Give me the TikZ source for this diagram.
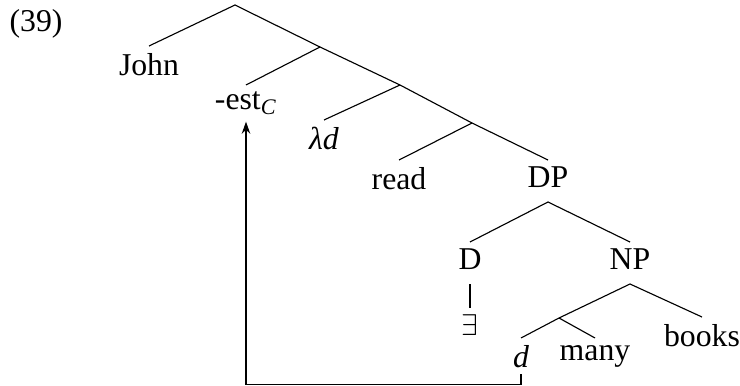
\documentclass[tikz,border=0pt]{standalone}
\usepackage{fontspec}
\setmainfont{Liberation Serif}
\usetikzlibrary{arrows.meta}

\begin{document}
\begin{tikzpicture}[
  x=0.4pt, y=-0.4pt, line width=0.45pt,
  >={Stealth[length=1.7mm,width=1.2mm]},
  font=\fontsize{12.7}{15}\selectfont,
  leaf/.style={anchor=north,inner sep=2.6pt},
]
\useasboundingbox (0,0) rectangle (740,386);
\node[anchor=base west,inner sep=0pt] (exnum) at (9,32) {(39)};

% --- spine of the tree ---
\coordinate (top) at (235,5);
\coordinate (n2)  at (320,47);
\coordinate (n3)  at (400,85);
\coordinate (n4)  at (472,123);
\node[leaf] (john) at (149,46)  {John};
\node[leaf] (est)  at (246,85)  {-est\textsubscript{\textit{C}}};
\node[leaf] (lam)  at (324,120) {\textit{λd}};
\node[leaf] (read) at (399,160) {read};
\node[leaf] (dp)   at (548,160) {DP};
\draw (top) -- (john.north);
\draw (top) -- (n2) -- (n3) -- (n4) -- (dp.north);
\draw (n2) -- (est.north);
\draw (n3) -- (lam.north);
\draw (n4) -- (read.north);

% --- DP ---
\coordinate (dpa) at (548,202);
\node[leaf] (det) at (470,242) {D};
\node[leaf] (np)  at (630,242) {NP};
\node[leaf] (ex)  at (470,308) {$\exists$};
\draw (det.north) -- (dpa) -- (np.north);
\draw[shorten <=3pt] (det.south) -- (ex.north);

% --- NP ---
\coordinate (npa) at (630,284);
\coordinate (n5)  at (559,318);
\node[leaf] (dvar)  at (521,338) {\textit{d}};
\node[leaf] (many)  at (595,338) {many};
\node[leaf] (books) at (702,317) {books};
\draw (n5) -- (npa) -- (books.north);
\draw (dvar.north) -- (n5) -- (many.north);

% --- movement arrow ---
\draw[->] (dvar.south) -- ++(0,10) -| (est.south);
\end{tikzpicture}
\end{document}
